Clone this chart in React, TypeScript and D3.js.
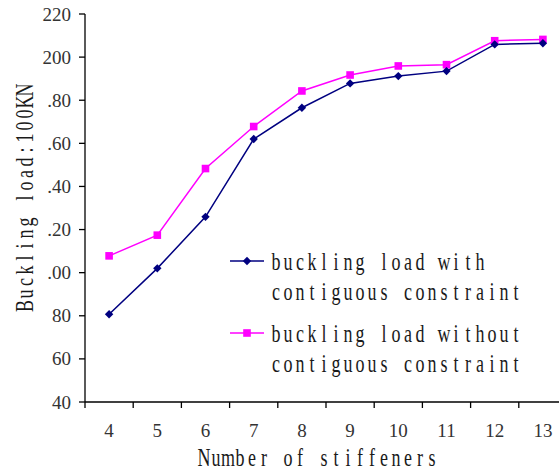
import React from "react";
import * as d3 from "d3";

const categories = ["4", "5", "6", "7", "8", "9", "10", "11", "12", "13"];
const withConstraint = [80.7, 102, 125.9, 162, 176.5, 187.8, 191.2, 193.5, 205.9, 206.4];
const withoutConstraint = [107.8, 117.4, 148.3, 167.8, 184.3, 191.7, 195.9, 196.5, 207.6, 208.2];
const yTickValues = [40, 60, 80, 100, 120, 140, 160, 180, 200, 220];
const yTickLabels = ["40", "60", "80", ".00", ".20", ".40", ".60", ".80", "200", "220"];
const seriesNames = [
  ["buckling load with", "contiguous constraint"],
  ["buckling load without", "contiguous constraint"],
];
const xTitle = "Number of stiffeners";
const yTitle = "Buckling load:100KN";

const W = 559;
const H = 476;
const serif = "'Liberation Serif', 'Times New Roman', serif";
const CELL = 12;
const SX = 0.72;

function MonoText({ text, x, y, size = 25 }: { text: string; x: number; y: number; size?: number }) {
  const chars = Array.from(text);
  const xs = chars.map((_, i) => ((i * CELL + CELL / 2) / SX).toFixed(2)).join(" ");
  return (
    <g transform={`translate(${x},${y}) scale(${SX},1)`}>
      <text
        x={xs}
        y={0}
        textAnchor="middle"
        style={{ fontFamily: serif, fontSize: size, fill: "#1a1a1a", whiteSpace: "pre" }}
      >
        {text}
      </text>
    </g>
  );
}

export default function App() {
  const x = d3.scaleBand<string>().domain(categories).range([85, 567]).padding(0);
  const y = d3.scaleLinear().domain([40, 220]).range([402, 14]);
  const cx = (c: string) => (x(c) ?? 0) + x.bandwidth() / 2;

  const line = d3
    .line<number>()
    .x((_, i) => cx(categories[i]))
    .y((d) => y(d));

  const blue = "#000080";
  const mag = "#FF00FF";

  const diamond = (px: number, py: number, r = 4.2) =>
    `M${px},${py - r}L${px + r},${py}L${px},${py + r}L${px - r},${py}Z`;

  const tickStyle = { fontFamily: serif, fontSize: 19, fill: "#333" };

  return (
    <svg
      width={W}
      height={H}
      style={{ position: "absolute", left: 0, top: 0, background: "#fff" }}
    >
      <rect x={0} y={0} width={W} height={H} fill="#fff" />
      {/* axes */}
      <line x1={85} y1={14} x2={85} y2={408} stroke="#000" strokeWidth={1.3} />
      <line x1={85} y1={402} x2={567} y2={402} stroke="#000" strokeWidth={1.3} />
      {yTickValues.map((v, i) => (
        <g key={"yt" + v}>
          <line x1={79} y1={y(v)} x2={85} y2={y(v)} stroke="#000" strokeWidth={1.3} />
          <text x={71} y={y(v) + 6.5} textAnchor="end" style={tickStyle}>
            {yTickLabels[i]}
          </text>
        </g>
      ))}
      {categories.map((c) => (
        <g key={"xt" + c}>
          <line
            x1={(x(c) ?? 0) + x.bandwidth()}
            y1={402}
            x2={(x(c) ?? 0) + x.bandwidth()}
            y2={408}
            stroke="#000"
            strokeWidth={1.3}
          />
          <text x={cx(c)} y={437} textAnchor="middle" style={tickStyle}>
            {c}
          </text>
        </g>
      ))}
      {/* axis titles */}
      <MonoText text={xTitle} x={318 - (xTitle.length * CELL) / 2} y={466} />
      <g transform={`translate(33, ${198 + (yTitle.length * CELL) / 2}) rotate(-90)`}>
        <MonoText text={yTitle} x={0} y={0} />
      </g>
      {/* series */}
      <path d={line(withoutConstraint) ?? ""} fill="none" stroke={mag} strokeWidth={1.5} />
      <path d={line(withConstraint) ?? ""} fill="none" stroke={blue} strokeWidth={1.5} />
      {withoutConstraint.map((v, i) => (
        <rect
          key={"m" + i}
          x={cx(categories[i]) - 3.8}
          y={y(v) - 3.8}
          width={7.6}
          height={7.6}
          fill={mag}
        />
      ))}
      {withConstraint.map((v, i) => (
        <path key={"b" + i} d={diamond(cx(categories[i]), y(v))} fill={blue} />
      ))}
      {/* legend */}
      <line x1={230} y1={261} x2={264} y2={261} stroke={blue} strokeWidth={1.5} />
      <path d={diamond(247, 261)} fill={blue} />
      <MonoText text={seriesNames[0][0]} x={270} y={270} />
      <MonoText text={seriesNames[0][1]} x={270} y={300} />
      <line x1={230} y1={333} x2={264} y2={333} stroke={mag} strokeWidth={1.5} />
      <rect x={243.2} y={329.2} width={7.6} height={7.6} fill={mag} />
      <MonoText text={seriesNames[1][0]} x={270} y={342} />
      <MonoText text={seriesNames[1][1]} x={270} y={372} />
    </svg>
  );
}
